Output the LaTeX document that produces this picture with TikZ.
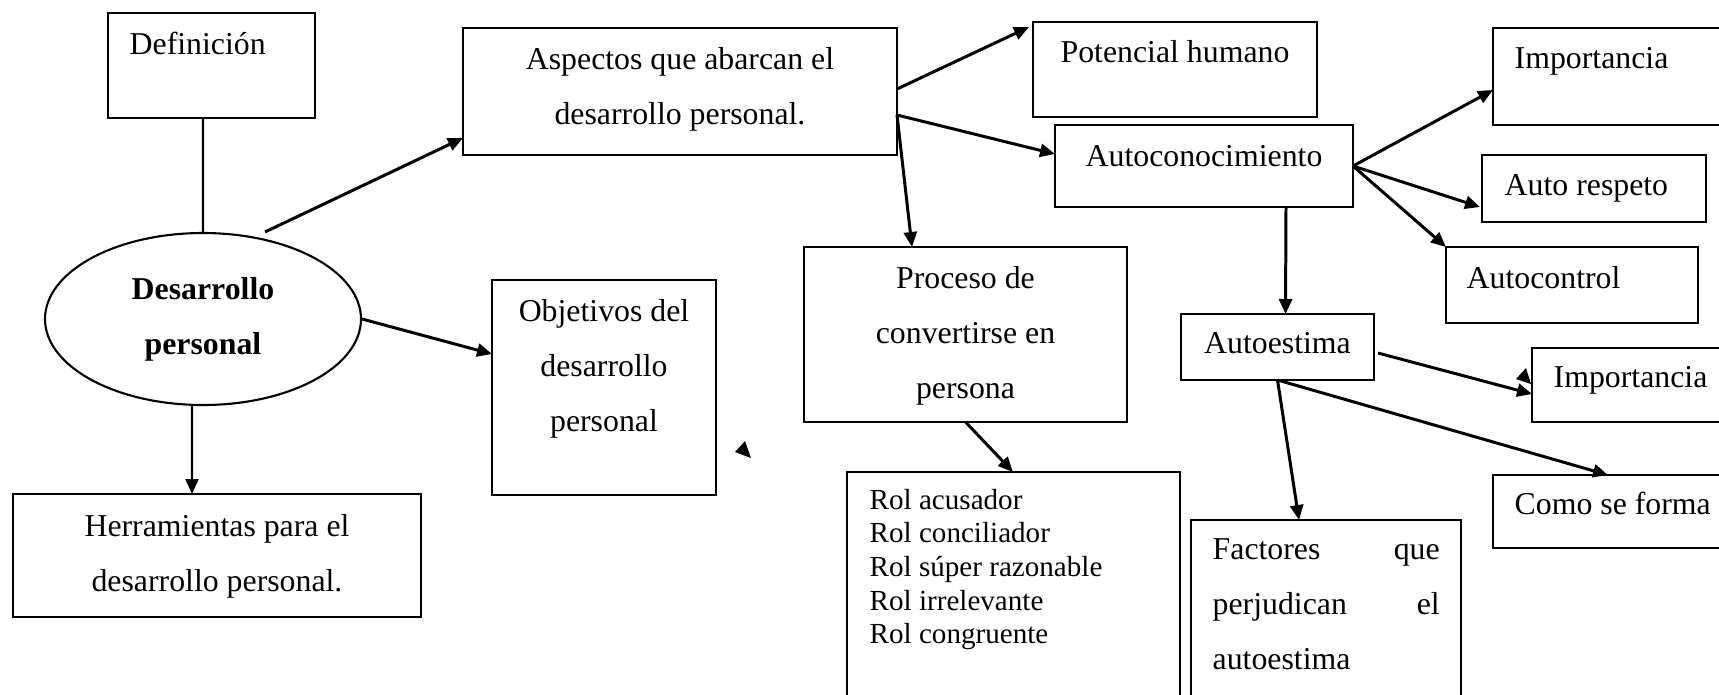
\documentclass[tikz,border=0pt]{standalone}
\usepackage{fontspec}
\setmainfont{Liberation Serif}
\usetikzlibrary{shapes.geometric,arrows.meta}
\newcommand{\letra}{\fontsize{9.05pt}{15.65pt}\selectfont}
\newcommand{\letrachica}{\fontsize{8.28pt}{9.56pt}\selectfont}
\tikzset{
  caja/.style={draw, line width=0.6pt, anchor=north west, inner sep=0pt, outer sep=0pt},
  flecha/.style={-{Triangle[length=1.5mm,width=1.3mm]}, line width=0.85pt},
  every label/.style={inner sep=0pt, align=center},
}

\begin{document}
\begin{tikzpicture}[x=0.1mm, y=-0.1mm, font=\letra]
    \useasboundingbox (0,0) rectangle (1719,694);
    \clip (0,0) rectangle (1719,694);

    % tema central
    \node[draw, ellipse, line width=0.6pt, inner sep=0pt, minimum width=31.6mm, minimum height=17.2mm, align=center, font=\letra\bfseries] (desa) at (203,319) {Desarrollo\\personal};

    \node[caja, minimum width=20.7mm, minimum height=10.5mm, label={[anchor=north west, xshift=2.1mm, yshift=-1.85mm]north west:Definición}] (def) at (108,13) {};
    \node[caja, minimum width=43.4mm, minimum height=12.7mm, label={[anchor=north, yshift=-1.85mm]north:Aspectos que abarcan el\\desarrollo personal.}] (asp) at (463,28) {};
    \node[caja, minimum width=22.4mm, minimum height=21.5mm, label={[anchor=north, yshift=-1.85mm]north:Objetivos del\\desarrollo\\personal}] (obj) at (492,280) {};
    \node[caja, minimum width=40.8mm, minimum height=12.3mm, label={[anchor=north, yshift=-1.95mm]north:Herramientas para el\\desarrollo personal.}] (herr) at (13,494) {};

    \node[caja, minimum width=28.4mm, minimum height=9.5mm, label={[anchor=north, yshift=-1.75mm]north:Potencial humano}] (pot) at (1033,22) {};
    \node[caja, minimum width=29.8mm, minimum height=8.2mm, label={[anchor=north, yshift=-1.95mm]north:Autoconocimiento}] (autoc) at (1055,125) {};
    \node[caja, minimum width=32.3mm, minimum height=17.5mm, label={[anchor=north, yshift=-1.85mm]north:Proceso de\\convertirse en\\persona}] (proc) at (804,247) {};
    \node[caja, minimum width=33.3mm, minimum height=25mm, label={[anchor=north west, xshift=2.2mm, yshift=-1.63mm, align=left, font=\letrachica]north west:Rol acusador\\Rol conciliador\\Rol súper razonable\\Rol irrelevante\\Rol congruente}] (rol) at (847,472) {};

    \node[caja, minimum width=19.3mm, minimum height=6.6mm, label={[anchor=north, yshift=-1.75mm]north:Autoestima}] (aest) at (1181,314) {};
    \node[caja, minimum width=27mm, minimum height=20mm, label={[anchor=north west, xshift=2.1mm, yshift=-1.75mm, text width=22.7mm, align=left]north west:Factores\hfill que\\perjudican\hfill el\\autoestima}] (fact) at (1191,520) {};

    % columna derecha
    \node[caja, minimum width=27mm, minimum height=9.7mm, label={[anchor=north west, xshift=2.1mm, yshift=-1.85mm]north west:Importancia}] (imp1) at (1493,28) {};
    \node[caja, minimum width=22.4mm, minimum height=6.7mm, label={[anchor=north west, xshift=2.2mm, yshift=-1.85mm]north west:Auto respeto}] (resp) at (1482,155) {};
    \node[caja, minimum width=25.2mm, minimum height=7.6mm, label={[anchor=north west, xshift=2mm, yshift=-1.85mm]north west:Autocontrol}] (actrl) at (1446,247) {};
    \node[caja, minimum width=23mm, minimum height=7.4mm, label={[anchor=north west, xshift=2.1mm, yshift=-1.75mm]north west:Importancia}] (imp2) at (1532,348) {};
    \node[caja, minimum width=26mm, minimum height=7.3mm, label={[anchor=north west, xshift=2.1mm, yshift=-1.65mm]north west:Como se forma}] (como) at (1493,475) {};

    \draw[line width=0.6pt] ([xshift=-0.85mm]def.south) -- (desa.north);
    \draw[flecha] ([xshift=6.2mm]desa.north) -- ([yshift=-4.65mm]asp.west);
    \draw[flecha] (desa.east) -- ([yshift=3.35mm]obj.west);
    \draw[flecha, line width=0.6pt] ([xshift=-1.1mm]desa.south) -- ([xshift=-2.5mm]herr.north);

    \draw[flecha] ([yshift=0.25mm]asp.east) -- ([xshift=-0.4mm,yshift=-0.5mm]pot.north west);
    \draw[flecha] ([yshift=-2.35mm]asp.east) -- ([yshift=1.2mm]autoc.west);
    \draw[flecha] ([yshift=-2.35mm]asp.east) -- ([xshift=-5.35mm]proc.north);
    \draw[flecha] (proc.south) -- ([xshift=16.6mm]rol.north west);

    \draw[flecha] (autoc.east) -- ([yshift=-1.35mm]imp1.west);
    \draw[flecha] (autoc.east) -- ([xshift=-0.2mm,yshift=-1.85mm]resp.west);
    \draw[flecha] (autoc.east) -- (actrl.north west);
    \draw[flecha] ([xshift=8.2mm]autoc.south) -- ([xshift=0.8mm]aest.north);

    \draw[flecha] ([xshift=0.4mm,yshift=-0.6mm]aest.east) -- ([yshift=-0.9mm]imp2.west);
    \draw[flecha] (aest.south) -- ([xshift=11.5mm]como.north west);
    \draw[flecha] (aest.south) -- ([xshift=10.8mm]fact.north west);

    % puntas sueltas
    \fill (735,452) -- (745,441) -- (751,458) -- cycle;
    \fill (1516,379) -- (1526,368) -- (1531,384) -- cycle;
\end{tikzpicture}
\end{document}
